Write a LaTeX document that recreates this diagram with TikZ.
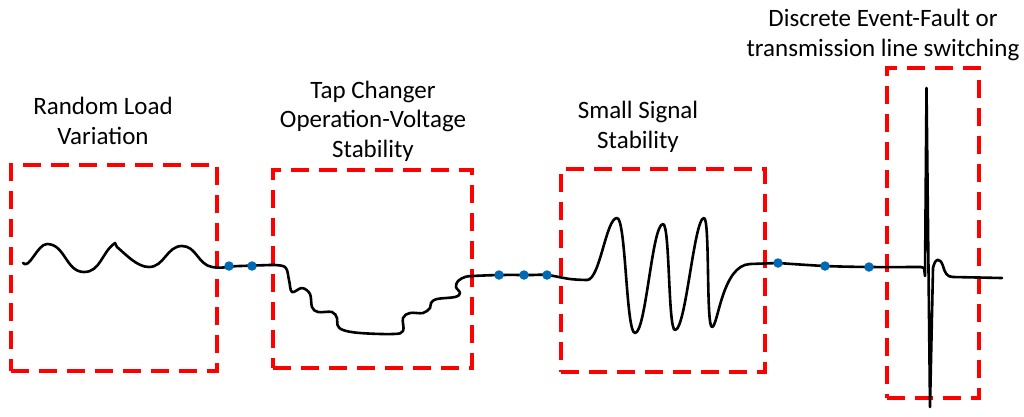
\documentclass[tikz,border=0pt]{standalone}
\usepackage{fontspec}
\setmainfont{Carlito}
\begin{document}
\begin{tikzpicture}[x=1pt,y=-1pt,
  box/.style={draw=boxred,line width=3.5pt,dash pattern=on 18pt off 10pt,minimum width=#1,inner sep=0pt,outer sep=0pt},
  lbl/.style={align=center,font=\fontsize{25}{29.5}\selectfont,inner sep=0pt},
  curve/.style={line width=2.6pt,line join=round,line cap=round},
  dot/.style={circle,fill=dotblue,inner sep=0pt,minimum size=9.5pt}]
\definecolor{boxred}{RGB}{255,0,0}
\definecolor{dotblue}{RGB}{0,105,180}
\useasboundingbox (0,0) rectangle (1024,416);
% boxes
\node[box=206pt,minimum height=206pt] (b1) at (114,268) {};
\node[box=199pt,minimum height=198pt] (b2) at (372.5,269) {};
\node[box=204pt,minimum height=203pt] (b3) at (663,270.5) {};
\node[box=92pt,minimum height=330pt] (b4) at (933,233) {};
% labels
\node[lbl] (l1) at (103,121) {Random Load\\Variation};
\node[lbl] (l2) at (373,121) {Tap Changer\\Operation-Voltage\\Stability};
\node[lbl] (l3) at (638,127) {Small Signal\\Stability};
\node[lbl] (l4) at (883,35) {Discrete Event-Fault or\\transmission line switching};
% signal
\draw[curve] (23,263) to[out=-50,in=180,looseness=0.8] (47,244)
  to[out=0,in=180] (84,272)
  to[out=0,in=215] (115,243) -- (117,247)
  to[out=-40,in=180,looseness=0.8] (149,267)
  to[out=0,in=180] (182,246)
  to[out=0,in=170] (212,267)
  to[out=-10,in=180] (240,266) -- (270,265);
\draw[curve] plot[smooth,tension=0.6] coordinates {(270,265) (285,267) (289,280) (292,292) (302,288) (310,294) (312,307) (318,312) (332,312) (337,318) (337.5,325) (343,330) (360,333) (393,334) (403,331) (403,318) (410,313) (423,313) (430,308) (431,303) (437,299) (455,297) (460,293) (456,287) (458,281) (465,277) (473,276) (500,275) (530,275) (547,275) (570,279) (587,280)};
\draw[curve] (587,280) .. controls (600,280) and (606,218) .. (617,218)
  .. controls (626,218) and (626,333) .. (635,333)
  .. controls (646,333) and (652,224) .. (663,224)
  .. controls (670,224) and (668,330) .. (675,330)
  .. controls (686,330) and (694,218) .. (704,218)
  .. controls (710,218) and (706,327) .. (712,327)
  .. controls (718,327) and (722,265) .. (750,264)
  -- (778,263);
\draw[curve] plot[smooth,tension=0.5] coordinates {(778,263) (825,266) (869,267) (921,267)};
\draw[curve] (921,267) -- (924,268) -- (925,276) -- (926.5,88) -- (930,407) -- (933,268)
  .. controls (935,258) and (940,257) .. (943,266)
  .. controls (945,273) and (947,277) .. (953,277) -- (1002,278);
% dots
\foreach \n/\x/\y in {d1/229/266,d2/252/266,d3/499/275,d4/524/275,d5/547/275,d6/778/263,d7/825/266,d8/869/267}
  \node[dot] (\n) at (\x,\y) {};
\end{tikzpicture}
\end{document}
